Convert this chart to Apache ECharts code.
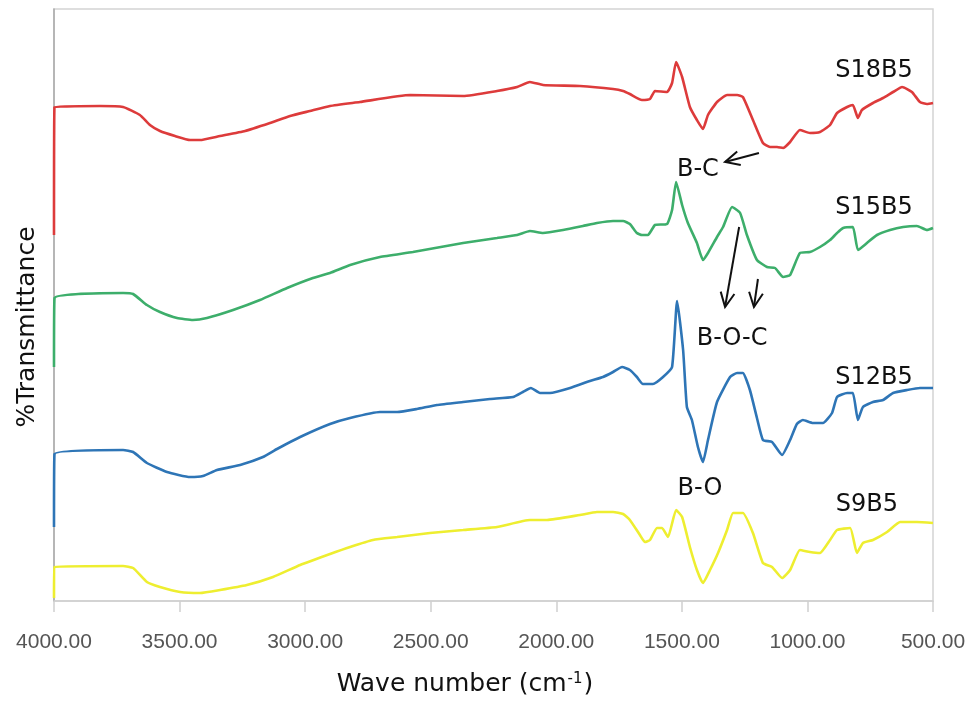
<!DOCTYPE html>
<html>
<head>
<meta charset="utf-8">
<script src="https://cdn.jsdelivr.net/npm/echarts@6/dist/echarts.min.js"></script>
<style>
html,body{margin:0;padding:0;background:#fff;}
#chart{width:973px;height:702px;}
</style>
</head>
<body>
<div id="chart"></div>
<script>
// Wave numbers (cm-1) and relative transmittance (offset, arbitrary units)
const xTicks = [4000, 3500, 3000, 2500, 2000, 1500, 1000, 500];

const s18b5 = [[4000,366],[3998,494],[3817,495],[3725,494],[3658,486],[3618,476],[3578,470],[3518,465],[3458,461],[3419,461],[3339,465],[3239,470],[3140,478],[3060,485],[2981,490],[2901,495],[2782,499],[2582,506],[2371,505],[2236,510],[2156,514],[2105,519],[2053,516],[1906,515],[1774,512],[1734,510],[1707,507],[1659,501],[1627,502],[1607,510],[1559,509],[1539,518],[1523,539],[1499,524],[1468,494],[1440,481],[1416,472],[1396,486],[1360,499],[1320,506],[1280,506],[1257,504],[1217,481],[1177,458],[1149,454],[1121,454],[1097,453],[1069,459],[1030,471],[990,468],[950,469],[910,476],[882,488],[842,494],[819,496],[799,483],[783,491],[739,498],[699,503],[659,509],[623,514],[584,509],[552,499],[524,497],[500,498]];

const s15b5 = [[4000,234],[3998,303],[3725,308],[3685,307],[3630,296],[3578,289],[3510,283],[3447,281],[3391,283],[3287,291],[3180,301],[3072,313],[2969,323],[2901,328],[2821,336],[2702,344],[2571,349],[2371,358],[2236,363],[2156,366],[2105,370],[2053,368],[1973,371],[1894,375],[1838,378],[1774,380],[1734,380],[1707,377],[1679,368],[1659,366],[1635,366],[1607,376],[1559,377],[1539,391],[1523,419],[1499,396],[1476,378],[1440,358],[1416,341],[1396,348],[1360,364],[1336,374],[1300,394],[1268,388],[1241,366],[1201,341],[1161,334],[1129,333],[1097,324],[1069,326],[1030,348],[990,349],[950,354],[910,361],[882,368],[858,373],[819,374],[799,351],[763,358],[723,366],[671,371],[619,374],[564,375],[524,371],[500,373]];

const s12b5 = [[4000,74],[3998,147],[3725,151],[3685,149],[3630,138],[3550,129],[3458,124],[3407,125],[3351,131],[3259,136],[3168,144],[3112,152],[3020,164],[2901,177],[2821,183],[2702,189],[2634,189],[2555,192],[2475,196],[2371,199],[2264,202],[2172,204],[2133,209],[2101,213],[2065,208],[2025,208],[1945,213],[1866,220],[1814,224],[1774,229],[1738,234],[1707,231],[1679,224],[1655,217],[1615,217],[1575,224],[1539,234],[1519,300],[1495,251],[1480,194],[1460,181],[1436,154],[1416,139],[1396,161],[1360,199],[1308,224],[1280,228],[1257,228],[1229,211],[1201,183],[1177,161],[1141,159],[1101,146],[1069,161],[1042,177],[1018,181],[978,178],[938,178],[902,188],[882,204],[842,208],[819,208],[799,181],[779,194],[739,199],[699,201],[659,208],[603,211],[552,213],[500,213]];

const s9b5 = [[4000,3],[3998,34],[3725,35],[3685,33],[3630,19],[3578,14],[3498,9],[3419,8],[3339,11],[3232,16],[3128,24],[3020,36],[2901,47],[2821,54],[2730,61],[2634,64],[2503,68],[2371,71],[2236,74],[2105,81],[2037,81],[1906,86],[1838,89],[1774,89],[1734,87],[1707,81],[1667,66],[1647,59],[1627,61],[1599,73],[1579,73],[1555,64],[1523,91],[1499,84],[1468,54],[1440,31],[1416,18],[1388,31],[1356,48],[1320,71],[1296,88],[1257,88],[1217,68],[1177,38],[1141,34],[1101,23],[1069,31],[1030,51],[990,49],[950,48],[910,61],[882,71],[830,73],[803,48],[779,58],[739,61],[683,69],[631,79],[564,79],[500,78]];

const seriesNames = ['S18B5', 'S15B5', 'S12B5', 'S9B5'];
const seriesColors = ['#DD3B3B', '#3DAE6B', '#2E75B6', '#EEEE30'];

// annotation anchors in data coordinates [wave number, value]
const labelTexts = ['S18B5', 'S15B5', 'S12B5', 'S9B5', 'B-C', 'B-O-C', 'B-O'];
const labelAnchors = [[735,530],[735,393],[735,223],[763,96],[1436,431],[1300,262],[1428,112]];
// arrows: [from, to] (head at "to")
const arrows = [
  [[1193,448],[1328,439]],
  [[1272,374],[1328,294]],
  [[1197,322],[1213,294]]
];

const chart = echarts.init(document.getElementById('chart'), null, {renderer:'canvas'});
const allData = [s18b5, s15b5, s12b5, s9b5];

chart.setOption({
  animation: false,
  backgroundColor: '#ffffff',
  grid: {left: 54, right: 40, top: 9, bottom: 101, show: true, borderColor: '#D4D4D4', borderWidth: 1.5, containLabel: false},
  xAxis: {
    type: 'value', min: 500, max: 4000, interval: 500, inverse: true,
    axisLine: {show: true, onZero: false, lineStyle: {color: '#D0D0D0', width: 1.5}},
    axisTick: {show: true, length: 11, lineStyle: {color: '#D0D0D0', width: 1.5}},
    splitLine: {show: false},
    axisLabel: {margin: 31, color: '#555555', fontSize: 21, fontFamily: 'Liberation Sans',
      formatter: v => v.toFixed(2)}
  },
  yAxis: {
    type: 'value', min: 0, max: 592,
    axisLine: {show: true, lineStyle: {color: '#A8A8A8', width: 1.5}},
    axisTick: {show: false}, axisLabel: {show: false}, splitLine: {show: false}
  },
  series: allData.map((d, i) => ({
    name: seriesNames[i], type: 'line', data: d, showSymbol: false, symbol: 'none',
    smooth: 0.15, lineStyle: {color: seriesColors[i], width: 2.6}, z: 3
  }))
});

function px(p){ return chart.convertToPixel({gridIndex:0}, p); }

const graphics = [];
labelTexts.forEach((t, i) => {
  const p = px(labelAnchors[i]);
  graphics.push({type:'text', x:p[0], y:p[1], z:10,
    style:{text:t, fill:'#111', font:'24px "DejaVu Sans"', textAlign:'center', textVerticalAlign:'middle'}});
});
arrows.forEach(a => {
  const p0 = px(a[0]), p1 = px(a[1]);
  const ang = Math.atan2(p1[1]-p0[1], p1[0]-p0[0]);
  const L = 16, w = 0.45;
  const h1 = [p1[0]-L*Math.cos(ang-w), p1[1]-L*Math.sin(ang-w)];
  const h2 = [p1[0]-L*Math.cos(ang+w), p1[1]-L*Math.sin(ang+w)];
  graphics.push({type:'line', z:10, shape:{x1:p0[0],y1:p0[1],x2:p1[0],y2:p1[1]}, style:{stroke:'#111', lineWidth:2}});
  graphics.push({type:'polyline', z:10, shape:{points:[h1,p1,h2]}, style:{stroke:'#111', lineWidth:2, fill:null}});
});
// axis titles
graphics.push({type:'text', x:465, y:684, z:10,
  style:{text:'{a|Wave number (cm}{s|-1}{a|)}', textAlign:'center', textVerticalAlign:'middle',
    rich:{a:{font:'25px "DejaVu Sans"', fill:'#111', verticalAlign:'bottom'},
          s:{font:'15px "DejaVu Sans"', fill:'#111', verticalAlign:'top', padding:[0,1,0,1]}}}});
graphics.push({type:'text', x:27, y:327, rotation:Math.PI/2, z:10,
  style:{text:'%Transmittance', font:'25px "DejaVu Sans"', fill:'#111', textAlign:'center', textVerticalAlign:'middle'}});
chart.setOption({graphic: graphics});
</script>
</body>
</html>
